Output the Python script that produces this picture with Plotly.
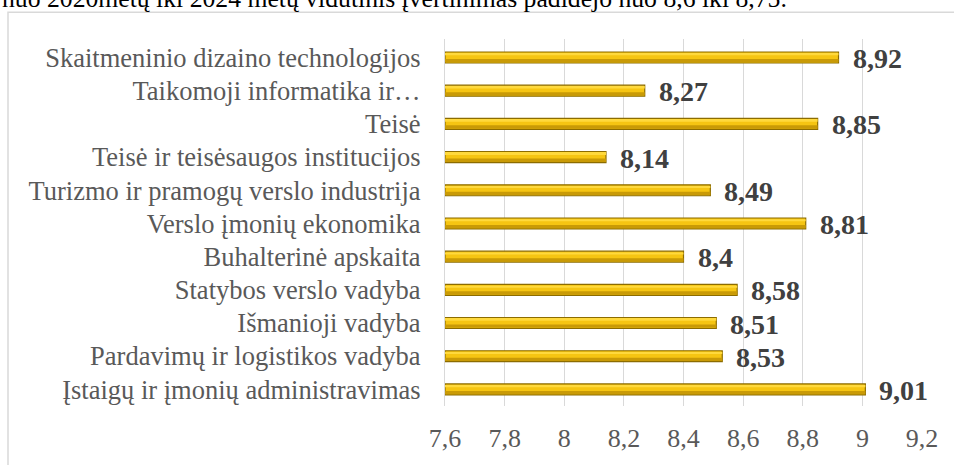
import plotly.graph_objects as go

categories = [
    "Skaitmeninio dizaino technologijos",
    "Taikomoji informatika ir…",
    "Teisė",
    "Teisė ir teisėsaugos institucijos",
    "Turizmo ir pramogų verslo industrija",
    "Verslo įmonių ekonomika",
    "Buhalterinė apskaita",
    "Statybos verslo vadyba",
    "Išmanioji vadyba",
    "Pardavimų ir logistikos vadyba",
    "Įstaigų ir įmonių administravimas",
]
values = [8.92, 8.27, 8.85, 8.14, 8.49, 8.81, 8.4, 8.58, 8.51, 8.53, 9.01]
tick_vals = [7.6, 7.8, 8.0, 8.2, 8.4, 8.6, 8.8, 9.0, 9.2]
tick_text = ["7,6", "7,8", "8", "8,2", "8,4", "8,6", "8,8", "9", "9,2"]
top_text = "nuo 2020metų iki 2024 metų vidutinis įvertinimas padidėjo nuo 8,6 iki 8,75."

label_text = [("%g" % v).replace(".", ",") for v in values]

W, H = 954, 465
ML, MR, MT, MB = 445, 32, 39, 56
PW, PH = W - ML - MR, H - MT - MB


def px_to_paper_x(px):
    return (px - ML) / PW


def px_to_paper_y(py):
    return 1 - (py - MT) / PH


BAR_W = 0.33
fig = go.Figure()
# main bar
fig.add_trace(go.Bar(
    x=[v - 7.6 for v in values],
    base=7.6,
    y=categories,
    orientation="h",
    width=BAR_W,
    marker=dict(color="#F6C512", line=dict(color="#8C6C00", width=1.2)),
    hoverinfo="skip",
))
# darker lower band (bevel look)
fig.add_trace(go.Bar(
    x=[v - 7.6 for v in values],
    base=7.6,
    y=categories,
    orientation="h",
    width=0.1,
    offset=BAR_W / 2 - 0.12,
    marker=dict(color="#C99A06", line=dict(width=0)),
    hoverinfo="skip",
))
# lighter upper highlight
fig.add_trace(go.Bar(
    x=[v - 7.6 for v in values],
    base=7.6,
    y=categories,
    orientation="h",
    width=0.06,
    offset=-BAR_W / 2 + 0.04,
    marker=dict(color="#FFD93D", line=dict(width=0)),
    hoverinfo="skip",
))

annotations = []
for c, v, t in zip(categories, values, label_text):
    annotations.append(dict(
        x=v, y=c, xref="x", yref="y", text="<b>%s</b>" % t,
        showarrow=False, xanchor="left", yanchor="middle",
        xshift=12, yshift=-1,
        font=dict(family="Liberation Serif", size=28, color="#404040"),
    ))
annotations.append(dict(
    x=px_to_paper_x(0), y=px_to_paper_y(15), xref="paper", yref="paper",
    text=top_text, showarrow=False, xanchor="left", yanchor="bottom",
    font=dict(family="Liberation Serif", size=25.7, color="#000000"),
))

fig.update_layout(
    width=W, height=H,
    margin=dict(l=ML, r=MR, t=MT, b=MB),
    paper_bgcolor="white", plot_bgcolor="white",
    barmode="overlay",
    showlegend=False,
    annotations=annotations,
    shapes=[dict(type="rect", xref="paper", yref="paper",
                 x0=px_to_paper_x(8), x1=px_to_paper_x(1100),
                 y0=px_to_paper_y(600), y1=px_to_paper_y(12),
                 line=dict(color="#D9D9D9", width=1.5), layer="below")],
    xaxis=dict(
        range=[7.6, 9.2], tickvals=tick_vals, ticktext=tick_text,
        showgrid=True, gridcolor="#D9D9D9", gridwidth=1,
        zeroline=False, showline=False,
        tickfont=dict(family="Liberation Serif", size=26, color="#595959"),
        ticklabelstandoff=14,
    ),
    yaxis=dict(
        autorange="reversed", showgrid=False, showline=True,
        linecolor="#D9D9D9", linewidth=1.2,
        tickfont=dict(family="Liberation Serif", size=26.5, color="#595959"),
        ticklabelstandoff=18,
    ),
)

fig.write_html("out.html", config={"displayModeBar": False},
               post_script="document.body.style.margin='0px';")
